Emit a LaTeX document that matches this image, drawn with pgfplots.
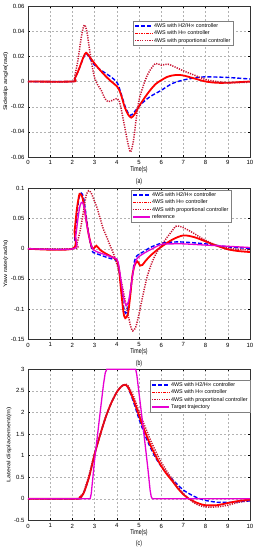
\documentclass[border=0pt]{standalone}
\usepackage{pgfplots}
\pgfplotsset{compat=1.18}
\usepackage{fontspec}
\setmainfont{Liberation Sans}
\definecolor{cblue}{rgb}{0,0,1}
\definecolor{cred}{rgb}{1,0,0}
\definecolor{cdot}{RGB}{200,20,50}
\definecolor{cmag}{RGB}{230,0,210}
\pgfplotsset{
  mybase/.style={
    scale only axis, width=222pt, height=151pt, anchor=north west,
    xmin=0, xmax=10, xtick={0,1,...,10},
    scaled y ticks=false, scaled x ticks=false,
    /pgf/number format/assume math mode=true,
    grid=major, major grid style={dash pattern=on 2pt off 2pt, gray!60, line width=0.3pt},
    tick align=inside, major tick length=2pt, tick style={black, line width=0.3pt},
    axis line style={black!80, line width=0.4pt},
    ticklabel style={font=\fontsize{6}{7}\selectfont},
    yticklabel style={inner ysep=0.5pt},
    xlabel={Time(s)},
    xlabel style={at={(axis description cs:0.5,-0.085)}, anchor=center, font=\fontsize{5.2}{6}\selectfont, yscale=1.35},
    ylabel style={anchor=center, font=\fontsize{5.2}{6}\selectfont, xscale=1.35},
    legend cell align=left,
    legend style={font=\fontsize{5.4}{6}\selectfont, draw=black!50, line width=0.3pt,
      inner sep=1pt, row sep=0pt, nodes={inner sep=1.2pt, text height=4pt, text depth=1pt}},
    clip mode=individual,
  },
  sblue/.style={cblue, dash pattern=on 4pt off 2pt, line width=1.4pt},
  sred/.style={cred, line width=1.8pt},
  sredleg/.style={cred, dash pattern=on 2.5pt off 1pt on 1pt off 1pt, line width=1.3pt},
  sdot/.style={cdot, dash pattern=on 1.2pt off 1.2pt, line width=1.5pt},
  smag/.style={cmag, line width=1.3pt},
}
\begin{document}
\begin{tikzpicture}
\useasboundingbox (0pt,0pt) rectangle (255pt,-550pt);
% ---------------- (a)
\begin{axis}[mybase, at={(28pt,-6pt)},
  ymin=-0.06, ymax=0.06, ytick={-0.06,-0.04,-0.02,0,0.02,0.04,0.06},
  yticklabels={-0.06,-0.04,-0.02,0,0.02,0.04,0.06},
  ylabel={Sideslip angle(rad)}, ylabel style={at={(axis description cs:-0.1,0.5)}},
  legend style={at={(0.923,0.901)}, anchor=north east}]
\addlegendimage{sblue}\addlegendentry{4WS with H2/H∞ controller}
\addlegendimage{sredleg}\addlegendentry{4WS with H∞ controller}
\addlegendimage{sdot}\addlegendentry{4WS with proportional controller}
\addplot[sblue, smooth, forget plot] coordinates {
(0,0)(2.0,0)(2.1,0.002)(2.3,0.010)(2.5,0.019)(2.62,0.0223)(2.8,0.018)(3.0,0.013)(3.25,0.0095)(3.5,0.0065)(3.75,0.0035)(3.95,0.0005)(4.05,-0.002)(4.2,-0.010)(4.4,-0.021)(4.6,-0.027)(4.8,-0.024)(5.0,-0.0197)(5.25,-0.0155)(5.5,-0.012)(5.75,-0.0095)(6.0,-0.007)(6.5,-0.0016)(7.0,0.0012)(7.5,0.0028)(8.0,0.0037)(9.0,0.0032)(10,0.002)};
\addplot[sred, smooth, forget plot] coordinates {
(0,0)(2.0,0)(2.1,0.002)(2.3,0.010)(2.5,0.0195)(2.62,0.0228)(2.8,0.019)(3.0,0.0143)(3.25,0.009)(3.5,0.0042)(3.75,0.000)(4.0,-0.0037)(4.1,-0.0064)(4.2,-0.011)(4.35,-0.020)(4.5,-0.026)(4.65,-0.0287)(4.8,-0.026)(5.0,-0.0197)(5.25,-0.013)(5.5,-0.007)(5.75,-0.002)(6.0,0.001)(6.25,0.0035)(6.5,0.0048)(6.75,0.0052)(7.0,0.0048)(7.5,0.0024)(8.0,0.000)(8.5,-0.001)(9.0,-0.001)(9.5,-0.0005)(10,0)};
\addplot[sdot, smooth, forget plot] coordinates {
(0,0)(2.0,0)(2.1,0.004)(2.25,0.017)(2.4,0.035)(2.53,0.0449)(2.65,0.040)(2.75,0.028)(2.87,0.0143)(3.0,0.003)(3.15,-0.003)(3.3,-0.007)(3.45,-0.013)(3.6,-0.016)(3.8,-0.015)(4.0,-0.0135)(4.1,-0.015)(4.2,-0.022)(4.3,-0.031)(4.4,-0.040)(4.5,-0.049)(4.62,-0.056)(4.75,-0.047)(4.85,-0.033)(5.0,-0.015)(5.2,-0.003)(5.35,0.004)(5.5,0.009)(5.75,0.0143)(6.0,0.013)(6.3,0.0138)(6.6,0.0117)(7.0,0.0085)(7.5,0.005)(8.0,0.0016)(8.5,0.0)(9.0,-0.001)(10,-0.0005)};
\node[font=\fontsize{5.2}{6}\selectfont, yscale=1.35] at (axis description cs:0.5,-0.163) {(a)};
\end{axis}
% ---------------- (b)
\begin{axis}[mybase, at={(28pt,-188.3pt)},
  ymin=-0.15, ymax=0.1, ytick={-0.15,-0.1,-0.05,0,0.05,0.1},
  yticklabels={-0.15,-0.1,-0.05,0,0.05,0.1},
  ylabel={Yaw rate(rad/s)}, ylabel style={at={(axis description cs:-0.1,0.5)}},
  legend style={at={(0.914,0.989)}, anchor=north east}]
\addlegendimage{sblue}\addlegendentry{4WS with H2/H∞ controller}
\addlegendimage{sredleg}\addlegendentry{4WS with H∞ controller}
\addlegendimage{sdot}\addlegendentry{4WS with proportional controller}
\addlegendimage{smag}\addlegendentry{reference}
\addplot[sblue, smooth, forget plot] coordinates {
(0,0)(2.0,0)(2.1,0.02)(2.2,0.055)(2.3,0.085)(2.4,0.092)(2.5,0.085)(2.6,0.06)(2.75,0.02)(2.9,-0.004)(3.0,-0.007)(3.3,-0.011)(3.6,-0.015)(3.9,-0.018)(4.0,-0.02)(4.1,-0.035)(4.2,-0.065)(4.3,-0.095)(4.4,-0.107)(4.5,-0.098)(4.6,-0.075)(4.7,-0.045)(4.8,-0.02)(4.9,-0.012)(5.0,-0.009)(5.25,-0.004)(5.5,0.002)(6.0,0.009)(6.5,0.011)(7.0,0.011)(8.0,0.008)(9.0,0.003)(10,0.0005)};
\addplot[sred, smooth, forget plot] coordinates {
(0,0)(2.0,0)(2.1,0.03)(2.2,0.065)(2.3,0.088)(2.35,0.091)(2.45,0.085)(2.55,0.065)(2.7,0.03)(2.85,0.005)(2.95,0.0)(3.08,0.005)(3.25,-0.002)(3.5,-0.008)(3.8,-0.014)(4.0,-0.019)(4.1,-0.035)(4.2,-0.072)(4.3,-0.105)(4.38,-0.115)(4.5,-0.108)(4.6,-0.08)(4.7,-0.045)(4.8,-0.028)(4.92,-0.021)(5.05,-0.028)(5.15,-0.027)(5.3,-0.02)(5.5,-0.012)(5.75,-0.004)(6.0,0.003)(6.5,0.015)(7.0,0.022)(7.5,0.019)(8.0,0.012)(8.5,0.005)(9.0,-0.001)(9.5,-0.004)(10,-0.0055)};
\addplot[sdot, smooth, forget plot] coordinates {
(0,0)(2.1,0)(2.2,0.008)(2.35,0.03)(2.5,0.062)(2.62,0.088)(2.73,0.096)(2.85,0.092)(3.0,0.078)(3.1,0.069)(3.25,0.05)(3.4,0.032)(3.55,0.019)(3.7,0.005)(3.85,-0.008)(4.0,-0.025)(4.15,-0.045)(4.35,-0.081)(4.5,-0.108)(4.62,-0.128)(4.72,-0.136)(4.85,-0.13)(5.0,-0.108)(5.2,-0.073)(5.4,-0.042)(5.65,-0.017)(5.85,-0.003)(6.0,0.005)(6.25,0.018)(6.5,0.03)(6.65,0.037)(6.85,0.037)(7.1,0.033)(7.4,0.027)(7.75,0.019)(8.1,0.012)(8.5,0.0055)(9.0,0.001)(9.5,-0.001)(10,-0.002)};
\addplot[smag, smooth, forget plot] coordinates {
(0,0)(2.05,0)(2.15,0.02)(2.25,0.05)(2.35,0.072)(2.45,0.077)(2.55,0.065)(2.65,0.04)(2.8,0.012)(2.95,-0.002)(3.1,-0.005)(3.4,-0.009)(3.7,-0.013)(4.0,-0.017)(4.1,-0.03)(4.2,-0.055)(4.3,-0.08)(4.42,-0.094)(4.52,-0.088)(4.62,-0.068)(4.72,-0.042)(4.8,-0.026)(4.9,-0.017)(5.0,-0.013)(5.25,-0.007)(5.5,-0.002)(6.0,0.007)(6.5,0.008)(7.0,0.008)(8.0,0.006)(9.0,0.004)(10,0.002)};
\node[font=\fontsize{5.2}{6}\selectfont, yscale=1.35] at (axis description cs:0.5,-0.162) {(b)};
\end{axis}
% ---------------- (c)
\begin{axis}[mybase, at={(28pt,-369.3pt)}, clip=false,
  ymin=-0.5, ymax=3, ytick={-0.5,0,0.5,1,1.5,2,2.5,3},
  yticklabels={-0.5,0,0.5,1,1.5,2,2.5,3},
  ylabel={Lateral displacement(m)}, ylabel style={at={(axis description cs:-0.085,0.5)}},
  legend style={at={(1,0.929)}, anchor=north east}]
\addlegendimage{sblue}\addlegendentry{4WS with H2/H∞ controller}
\addlegendimage{sredleg}\addlegendentry{4WS with H∞ controller}
\addlegendimage{sdot}\addlegendentry{4WS with proportional controller}
\addlegendimage{smag}\addlegendentry{Target trajectory}
\addplot[sblue, smooth, forget plot] coordinates {
(0,0)(2.2,0)(2.35,0.04)(2.5,0.12)(2.75,0.5)(3.0,1.03)(3.25,1.48)(3.5,1.89)(3.75,2.22)(4.0,2.47)(4.2,2.6)(4.35,2.64)(4.5,2.58)(4.75,2.25)(5.0,1.85)(5.25,1.5)(5.5,1.2)(5.75,0.95)(6.0,0.75)(6.25,0.58)(6.5,0.45)(6.75,0.32)(7.0,0.2)(7.25,0.12)(7.5,0.05)(7.75,0.0)(8.0,-0.04)(8.5,-0.08)(9.0,-0.085)(9.5,-0.07)(10,-0.05)};
\addplot[sred, smooth, forget plot] coordinates {
(0,0)(2.2,0)(2.35,0.04)(2.5,0.12)(2.75,0.5)(3.0,1.03)(3.25,1.48)(3.5,1.89)(3.75,2.22)(4.0,2.47)(4.2,2.6)(4.35,2.64)(4.5,2.59)(4.75,2.3)(5.0,1.93)(5.25,1.58)(5.5,1.26)(5.75,0.99)(6.0,0.76)(6.25,0.57)(6.5,0.41)(6.75,0.24)(7.0,0.1)(7.25,0.0)(7.5,-0.07)(7.75,-0.12)(8.0,-0.15)(8.5,-0.15)(9.0,-0.1)(9.5,-0.05)(10,-0.02)};
\addplot[sdot, smooth, forget plot] coordinates {
(0,0)(2.2,0)(2.4,0.08)(2.5,0.15)(2.75,0.55)(3.0,1.05)(3.5,1.9)(4.0,2.48)(4.35,2.64)(4.5,2.62)(4.75,2.38)(5.0,2.02)(5.25,1.7)(5.5,1.38)(5.75,1.1)(6.0,0.85)(6.25,0.64)(6.5,0.45)(6.75,0.27)(7.0,0.12)(7.25,0.0)(7.5,-0.1)(7.75,-0.16)(8.0,-0.19)(8.5,-0.19)(9.0,-0.15)(9.5,-0.08)(10,-0.04)};
\addplot[smag, forget plot] coordinates {
(0,0)(2.8,0)(2.85,0.12)(3.0,0.9)(3.25,2.0)(3.4,2.65)(3.48,2.92)(3.55,3.0)(4.85,3.0)(4.9,2.88)(5.2,1.6)(5.4,0.7)(5.5,0.2)(5.55,0.05)(5.6,0)(10,0)};
\node[font=\fontsize{5.2}{6}\selectfont, yscale=1.35] at (axis description cs:0.5,-0.155) {(c)};
\end{axis}
\end{tikzpicture}
\end{document}
